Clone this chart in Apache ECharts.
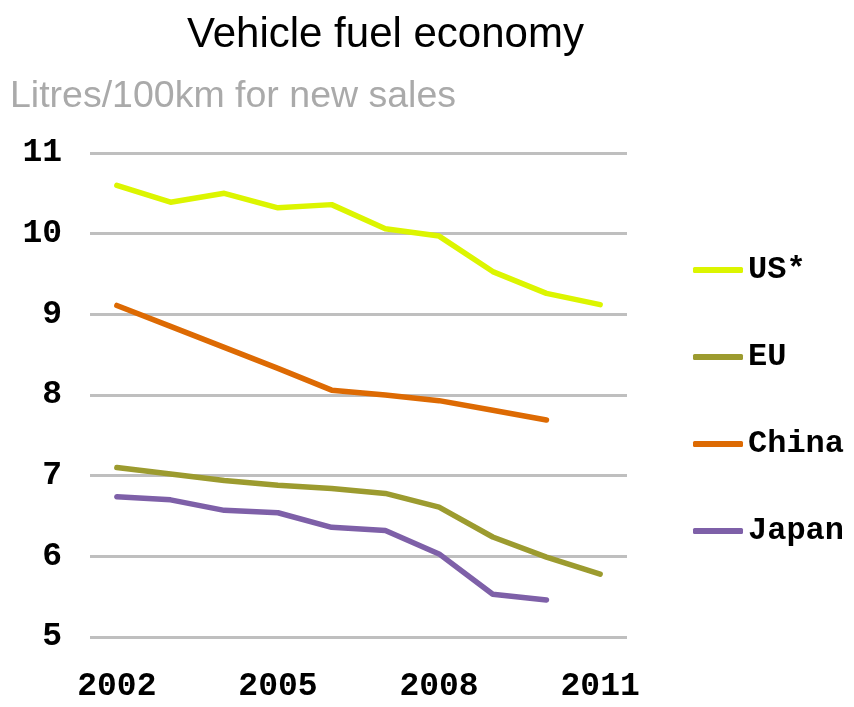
<!DOCTYPE html>
<html>
<head>
<meta charset="utf-8">
<script src="https://cdn.jsdelivr.net/npm/echarts@6/dist/echarts.min.js"></script>
<style>html,body{margin:0;padding:0;background:#fff}#c{width:854px;height:707px}</style>
</head>
<body>
<div id="c"></div>
<script>
const years = ['2002','2003','2004','2005','2006','2007','2008','2009','2010','2011'];
const usValues = [10.60, 10.39, 10.50, 10.32, 10.36, 10.06, 9.97, 9.53, 9.26, 9.12];
const euValues = [7.10, 7.02, 6.94, 6.88, 6.84, 6.78, 6.61, 6.24, 5.99, 5.78];
const chinaValues = [9.11, 8.85, 8.59, 8.33, 8.06, 8.00, 7.93, 7.81, 7.69, null];
const japanValues = [6.74, 6.70, 6.57, 6.54, 6.36, 6.32, 6.03, 5.53, 5.46, null];
const seriesNames = ['US*', 'EU', 'China', 'Japan'];
const yTicks = [5, 6, 7, 8, 9, 10, 11];

const colors = ['#DCF500', '#9C9B2F', '#DD6A03', '#7E60A8'];
const dataSets = [usValues, euValues, chinaValues, japanValues];
const mono = '"Liberation Mono", "Courier New", monospace';

const chart = echarts.init(document.getElementById('c'), null, {renderer: 'canvas'});
chart.setOption({
  animation: false,
  backgroundColor: '#ffffff',
  title: [
    {text: 'Vehicle fuel economy', left: 187, top: 14, padding: 0,
     textStyle: {fontFamily: '"Liberation Sans", Arial, sans-serif', fontSize: 42, fontWeight: 'normal', color: '#000'}},
    {text: 'Litres/100km for new sales', left: 10, top: 78, padding: 0,
     textStyle: {fontFamily: '"Liberation Sans", Arial, sans-serif', fontSize: 37.5, fontWeight: 'normal', color: '#AAAAAA'}}
  ],
  legend: {
    orient: 'vertical', left: 693, top: 250, padding: 0,
    icon: 'roundRect', itemWidth: 50, itemHeight: 6, itemGap: 47,
    data: seriesNames,
    textStyle: {fontFamily: mono, fontSize: 32, fontWeight: 'bold', color: '#000', lineHeight: 40}
  },
  grid: {left: 90, right: 227, top: 153, bottom: 70},
  xAxis: {
    type: 'category', data: years, boundaryGap: true,
    axisLine: {show: false}, axisTick: {show: false},
    axisLabel: {interval: 2, margin: 33, fontFamily: mono, fontSize: 33, fontWeight: 'bold', color: '#000'}
  },
  yAxis: {
    type: 'value', min: yTicks[0], max: yTicks[yTicks.length - 1], interval: 1,
    axisLine: {show: false}, axisTick: {show: false},
    axisLabel: {margin: 28, fontFamily: mono, fontSize: 33, fontWeight: 'bold', color: '#000'},
    splitLine: {lineStyle: {color: '#BFBFBF', width: 3}}
  },
  series: seriesNames.map((n, i) => ({
    name: n, type: 'line', data: dataSets[i], symbol: 'none',
    lineStyle: {color: colors[i], width: 5.5, cap: 'round', join: 'round'},
    itemStyle: {color: colors[i]}
  }))
});
</script>
</body>
</html>
